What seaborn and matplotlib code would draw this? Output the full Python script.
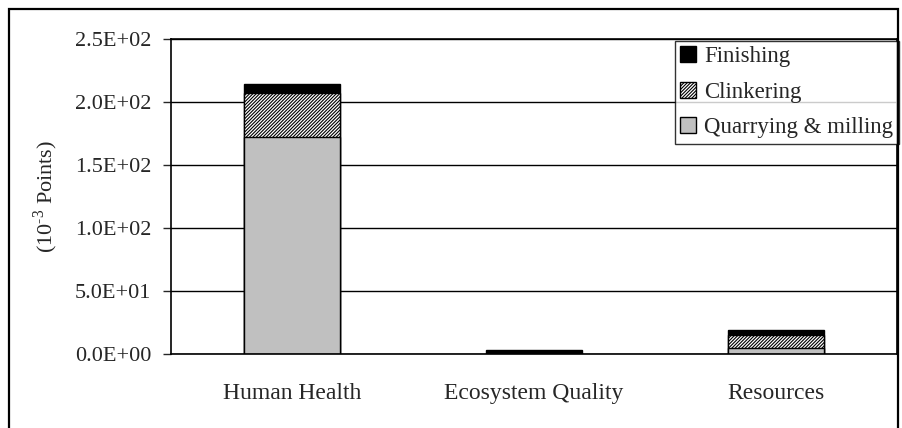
import numpy as np
import pandas as pd
import matplotlib.pyplot as plt
import seaborn as sns
from matplotlib.patches import Rectangle, Patch

# ------------------------------------------------------------------
# data (10^-3 Points)
# ------------------------------------------------------------------
categories = ["Human Health", "Ecosystem Quality", "Resources"]
quarrying = [172.0, 0.3, 4.5]
clinkering = [35.0, 0.4, 10.6]
finishing = [7.0, 2.7, 4.0]

df = pd.DataFrame({
    "category": categories,
    "Quarrying & milling": quarrying,
    "Clinkering": clinkering,
    "Finishing": finishing,
})
df["q_top"] = df["Quarrying & milling"]
df["c_top"] = df["q_top"] + df["Clinkering"]
df["f_top"] = df["c_top"] + df["Finishing"]

sns.set_style("white")
plt.rcParams["font.family"] = ["Liberation Serif", "DejaVu Serif"]
plt.rcParams["hatch.linewidth"] = 0.8
plt.rcParams["mathtext.fontset"] = "custom"
plt.rcParams["mathtext.rm"] = "Liberation Serif"

FS = 16
W, H = 903, 428
fig = plt.figure(figsize=(W / 100, H / 100), dpi=100)
ax = fig.add_axes([171 / W, (H - 354) / H, (897 - 171) / W, (354 - 39) / H])

# outer chart border
fig.patches.append(Rectangle((9 / W, -0.05), (898 - 9) / W, (H - 9) / H + 0.05,
                             transform=fig.transFigure, fill=False,
                             edgecolor="black", linewidth=1.6, zorder=0))

ax.set_axisbelow(True)
ax.yaxis.grid(True, color="black", linewidth=1.0)

# stacked bars: draw totals first, then lower segments on top
sns.barplot(data=df, x="category", y="f_top", color="black", width=0.4,
            edgecolor="black", linewidth=1.0, saturation=1, ax=ax)
sns.barplot(data=df, x="category", y="c_top", color="white", width=0.4,
            edgecolor="black", linewidth=1.0, saturation=1, ax=ax)
n = len(categories)
for p in ax.patches[n:2 * n]:
    p.set_hatch("//////////")
sns.barplot(data=df, x="category", y="q_top", color="#c0c0c0", width=0.4,
            edgecolor="black", linewidth=1.0, saturation=1, ax=ax)

ax.set_xlim(-0.5, 2.5)
ax.set_ylim(0, 250)
ax.set_yticks([0, 50, 100, 150, 200, 250])
ax.set_yticklabels(["0.0E+00", "5.0E+01", "1.0E+02", "1.5E+02", "2.0E+02", "2.5E+02"])
ax.set_xticks([0.5, 1.5], minor=True)
ax.tick_params(axis="x", which="major", length=0, pad=21, labelsize=17)
ax.tick_params(axis="x", which="minor", length=6, width=1, color="gray", direction="out")
ax.tick_params(axis="y", length=6, width=1, direction="out", left=True, pad=8, labelsize=FS)
ax.set_xlabel("")
ax.set_ylabel(r"(10$^{\mathrm{\text{-3}}}$ Points)", fontsize=FS, labelpad=11)

for s in ax.spines.values():
    s.set_color("black")
    s.set_linewidth(1.2)

handles = [
    Patch(facecolor="black", edgecolor="black", label="Finishing"),
    Patch(facecolor="white", edgecolor="black", hatch="//////////", label="Clinkering"),
    Patch(facecolor="#c0c0c0", edgecolor="black", label="Quarrying & milling"),
]
leg = ax.legend(handles=handles, loc="upper right", bbox_to_anchor=(1.003, 0.995),
                fontsize=16.5, frameon=True, fancybox=False, handlelength=0.7,
                handleheight=0.7, handletextpad=0.35, labelspacing=0.62,
                borderpad=0.25, borderaxespad=0)
leg.get_frame().set_edgecolor("black")
leg.get_frame().set_linewidth(1.0)

fig.savefig("out.png", dpi=100)
